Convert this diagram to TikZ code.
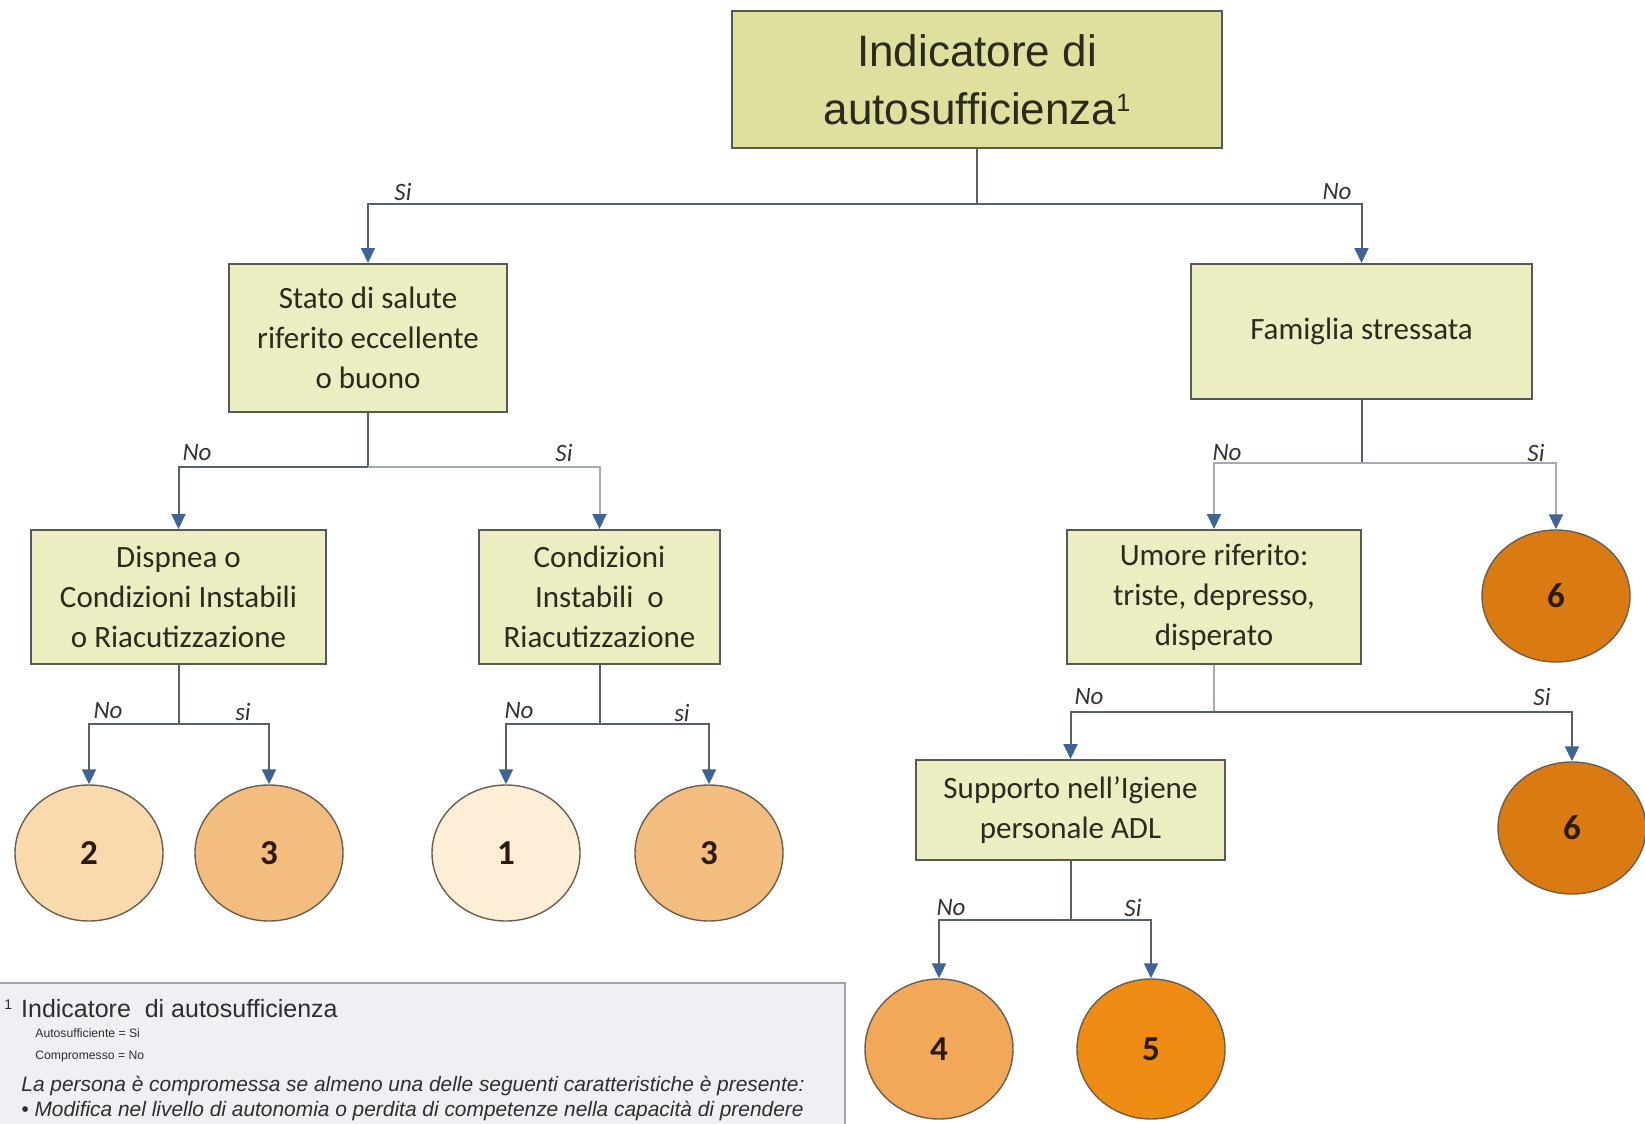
\documentclass[tikz,border=0pt]{standalone}
\usepackage{fontspec}
\setmainfont{Liberation Sans}
\newfontfamily\calib{Carlito}
\usetikzlibrary{shapes.geometric,arrows.meta}

\definecolor{topfill}{HTML}{DFDF9E}
\definecolor{boxfill}{HTML}{EDEDC2}
\definecolor{boxline}{HTML}{555A55}
\definecolor{txt}{HTML}{2A2A1E}
\definecolor{numtxt}{HTML}{2B1A10}
\definecolor{resline}{HTML}{6B5E50}
\definecolor{armdark}{HTML}{56616C}
\definecolor{armlight}{HTML}{A3AAB2}
\definecolor{tipblue}{HTML}{3E6496}
\definecolor{lbltxt}{HTML}{333333}
\definecolor{rone}{HTML}{FCEFD6}
\definecolor{rtwo}{HTML}{FAD9AC}
\definecolor{rthree}{HTML}{F4BD80}
\definecolor{rfour}{HTML}{F1A858}
\definecolor{rfive}{HTML}{EE8B12}
\definecolor{rsix}{HTML}{D97A12}
\definecolor{legfill}{HTML}{EEF0F3}
\definecolor{legline}{HTML}{9AA4AE}

% footnote mark: size, raise
\newcommand{\supone}[2]{\raisebox{#2}{\fontsize{#1}{#1}\selectfont 1}}

\tikzset{
  qbox/.style={draw=boxline, line width=1pt, fill=boxfill, align=center,
    font=\calib\fontsize{15.5}{20}\selectfont, text=txt, inner sep=0pt},
  res/.style={ellipse, draw=resline, line width=0.7pt, minimum width=74pt,
    minimum height=68pt, inner sep=0pt,
    font=\calib\bfseries\fontsize{17.5}{20}\selectfont, text=numtxt},
  arm/.style={draw=armdark, line width=1pt},
  armlt/.style={draw=armlight, line width=1pt},
  tip/.style={-{Triangle[width=7pt,length=7.5pt,color=tipblue]}},
  lbl/.style={font=\calib\itshape\fontsize{12.5}{14}\selectfont, text=lbltxt, inner sep=0pt},
  legtxt/.style={anchor=west, inner sep=0pt, text=black!82}
}

\begin{document}
\begin{tikzpicture}[x=0.5pt, y=-0.5pt]
\useasboundingbox (0,0) rectangle (1645,1124);
\clip (0,0) rectangle (1645,1124);
\fill[white] (0,0) rectangle (1645,1124);

% question boxes
\node[qbox, fill=topfill, minimum width=245pt, minimum height=68.5pt,
  font=\fontsize{22}{29}\selectfont] (top) at (977,79.5)
  {Indicatore di\\autosufficienza\supone{12.5}{6.5pt}};
\node[qbox, minimum width=139pt, minimum height=74pt] (stato) at (368,338)
  {Stato di salute\\riferito eccellente\\o buono};
\node[qbox, minimum width=170.5pt, minimum height=67.5pt] (fam) at (1361.5,331.5)
  {Famiglia stressata};
\node[qbox, minimum width=147.5pt, minimum height=67pt] (disp) at (178.5,597)
  {Dispnea o\\Condizioni Instabili\\o Riacutizzazione};
\node[qbox, minimum width=120.5pt, minimum height=67pt] (cond) at (599.5,597)
  {Condizioni\\Instabili\ \ o\\Riacutizzazione};
\node[qbox, minimum width=147pt, minimum height=67pt] (umore) at (1214,597)
  {Umore riferito:\\triste, depresso,\\disperato};
\node[qbox, minimum width=154.5pt, minimum height=50pt] (supp) at (1070.5,810)
  {Supporto nell’Igiene\\personale ADL};

% result circles
\node[res, fill=rtwo]   (r2)  at (89,853)   {2};
\node[res, fill=rthree] (r3a) at (269,853)  {3};
\node[res, fill=rone]   (r1)  at (506,853)  {1};
\node[res, fill=rthree] (r3b) at (709,853)  {3};
\node[res, fill=rsix, minimum height=66pt]   (r6a) at (1556,596)  {6};
\node[res, fill=rsix, minimum height=66pt]   (r6b) at (1572,828)  {6};
\node[res, fill=rfour, minimum height=70pt]  (r4)  at (939,1049)  {4};
\node[res, fill=rfive, minimum height=70pt]  (r5)  at (1151,1049) {5};

% branch points
\coordinate (j0) at (977,204);
\coordinate (j1) at (368,467);
\coordinate (j2) at (178.5,724);
\coordinate (j3) at (599.5,724);
\coordinate (j4) at (1361.5,463);
\coordinate (j5) at (1214,712);
\coordinate (j6) at (1070.5,920);

% connectors
\draw[arm] (top) -- (j0);
\draw[arm, tip] (j0) -| (stato);
\draw[arm, tip] (j0) -| (fam);

\draw[arm] (stato) -- (j1);
\draw[arm, tip] (j1) -| (disp);
\draw[armlt, tip] (j1) -| (cond);

\draw[arm] (disp) -- (j2);
\draw[arm, tip] (j2) -| (r2);
\draw[arm, tip] (j2) -| (r3a);

\draw[arm] (cond) -- (j3);
\draw[arm, tip] (j3) -| (r1);
\draw[arm, tip] (j3) -| (r3b);

\draw[arm] (fam) -- (j4);
\draw[armlt, tip] (j4) -| (umore);
\draw[armlt, tip] (j4) -| (r6a);

\draw[armlt] (umore) -- (j5);
\draw[arm, tip] (j5) -| (supp);
\draw[arm, tip] (j5) -| (r6b);

\draw[arm] (supp) -- (j6);
\draw[arm, tip] (j6) -| (r4);
\draw[arm, tip] (j6) -| (r5);

% branch labels
\node[lbl] (l0a) at (403,192)  {Si};
\node[lbl] (l0b) at (1337,192) {No};
\node[lbl] (l1a) at (197,453)  {No};
\node[lbl] (l1b) at (564,453)  {Si};
\node[lbl] (l2a) at (108,711)  {No};
\node[lbl] (l2b) at (243,712)  {si};
\node[lbl] (l3a) at (519,711)  {No};
\node[lbl] (l3b) at (682,713)  {si};
\node[lbl] (l4a) at (1227,453) {No};
\node[lbl] (l4b) at (1536,453) {Si};
\node[lbl] (l5a) at (1089,697) {No};
\node[lbl] (l5b) at (1542,697) {Si};
\node[lbl] (l6a) at (951,908)  {No};
\node[lbl] (l6b) at (1133,908) {Si};

% footnote box
\node[draw=legline, line width=0.8pt, fill=legfill, anchor=north west,
  minimum width=423pt, minimum height=100pt, inner sep=0pt] (legbox) at (-2,982) {};
\node[legtxt, font=\fontsize{12.5}{14}\selectfont] (leg0) at (4,1009)
  {\supone{7}{4pt}\hspace{4.5pt}Indicatore\ \ di autosufficienza};
\node[legtxt, font=\fontsize{6.1}{7}\selectfont] (leg1) at (35,1033)
  {Autosufficiente = Si};
\node[legtxt, font=\fontsize{6.1}{7}\selectfont] (leg2) at (35,1056)
  {Compromesso = No};
\node[legtxt, font=\itshape\fontsize{10.45}{12}\selectfont] (leg3) at (21,1086)
  {La persona è compromessa se almeno una delle seguenti caratteristiche è presente:};
\node[legtxt, font=\itshape\fontsize{10.45}{12}\selectfont] (leg4) at (21,1111)
  {• Modifica nel livello di autonomia o perdita di competenze nella capacità di prendere};
\end{tikzpicture}
\end{document}
